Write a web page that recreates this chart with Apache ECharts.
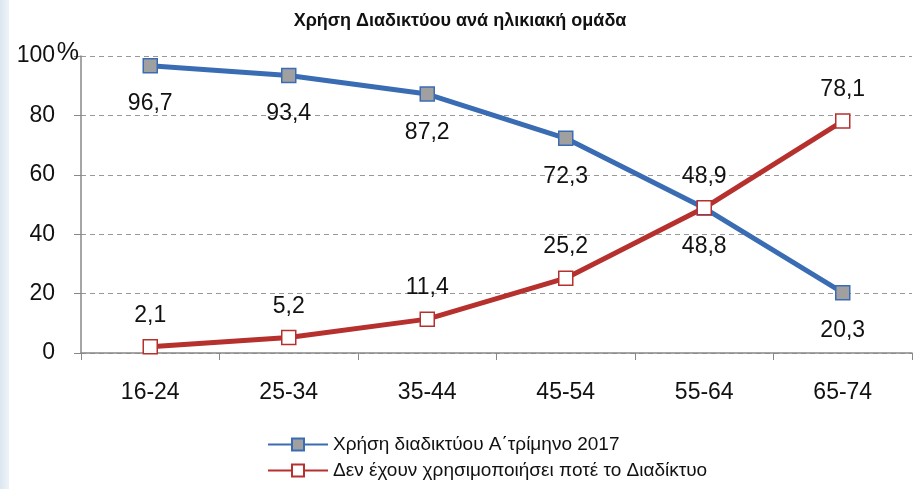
<!DOCTYPE html>
<html><head><meta charset="utf-8">
<script src="https://cdn.jsdelivr.net/npm/echarts@6/dist/echarts.min.js"></script>
<style>html,body{margin:0;padding:0;background:#fff}#c{width:920px;height:489px}</style>
</head><body><div id="c"></div>
<script>
var categories = ['16-24','25-34','35-44','45-54','55-64','65-74'];
var usersValues = [96.7, 93.4, 87.2, 72.3, 48.8, 20.3];
var neverValues = [2.1, 5.2, 11.4, 25.2, 48.9, 78.1];
var seriesNames = ['Χρήση διαδικτύου Α΄τρίμηνο 2017', 'Δεν έχουν χρησιμοποιήσει ποτέ το Διαδίκτυο'];
var titleText = 'Χρήση Διαδικτύου ανά ηλικιακή ομάδα';

var chart = echarts.init(document.getElementById('c'));
function fmt(p){ return String(p.value).replace('.', ','); }
var lblFont = {fontFamily:'Liberation Sans, Arial, sans-serif', fontSize:23, color:'#111'};
chart.setOption({
  backgroundColor:'#fff',
  animation:false,
  graphic:[{type:'rect', left:0, top:0, shape:{width:9, height:489},
    style:{fill:new echarts.graphic.LinearGradient(0,0,1,0,[{offset:0,color:'#dbe7f1'},{offset:1,color:'#eef3f8'}])}}],
  title:{text:titleText, left:'center', top:7,
    textStyle:{fontFamily:'Liberation Sans Narrow, Arial Narrow, Liberation Sans, sans-serif', fontSize:18, fontWeight:'bold', color:'#111'}},
  grid:{left:81, right:8, top:56, bottom:136},
  legend:{orient:'vertical', left:262, top:430, itemGap:7, itemWidth:60, itemHeight:15,
    textStyle:{fontFamily:'Liberation Sans, Arial, sans-serif', fontSize:19, color:'#111'},
    data:seriesNames},
  xAxis:{type:'category', data:categories, boundaryGap:true,
    axisLine:{lineStyle:{color:'#888', width:1.5}},
    axisTick:{show:true, length:7, lineStyle:{color:'#888'}},
    axisLabel:Object.assign({margin:28}, lblFont)},
  yAxis:{type:'value', min:0, max:100, interval:20,
    axisLine:{show:true, lineStyle:{color:'#888', width:1.5}},
    axisTick:{show:true, length:7, lineStyle:{color:'#888'}},
    splitLine:{lineStyle:{color:'#999', type:[5,4], width:1}},
    axisLabel:{margin:2, align:'right',
      formatter:function(v){ return v===100 ? '{a|100}{p|%}' : '{a|'+v+'}{e|}'; },
      rich:{a:lblFont, p:{fontFamily:'Liberation Sans, Arial, sans-serif', fontSize:25, color:'#111', width:24, verticalAlign:'bottom', padding:[0,0,6,0]}, e:{width:24}}}},
  series:[
    {name:seriesNames[0], type:'line', data:usersValues, symbol:'rect', symbolSize:14,
      lineStyle:{color:'#3a6cb4', width:5}, itemStyle:{color:'#a0a0a0', borderColor:'#3a6cb4', borderWidth:1.5},
      label:Object.assign({show:true, position:'bottom', distance:19, formatter:fmt}, lblFont)},
    {name:seriesNames[1], type:'line', data:neverValues, symbol:'rect', symbolSize:14,
      lineStyle:{color:'#b6302e', width:5}, itemStyle:{color:'#fff', borderColor:'#b6302e', borderWidth:1.5},
      label:Object.assign({show:true, position:'top', distance:12, formatter:fmt}, lblFont)}
  ]
});
</script></body></html>
